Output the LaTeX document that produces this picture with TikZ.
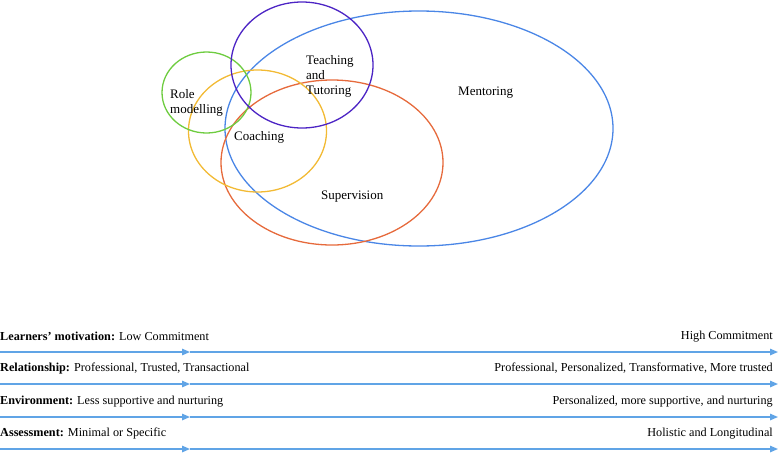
\documentclass[tikz,border=0pt]{standalone}
\usepackage{fontspec}
\setmainfont{Liberation Serif}
\usetikzlibrary{arrows.meta,shapes.geometric}
\definecolor{cgreen}{RGB}{110,204,64}
\definecolor{cpurple}{RGB}{76,36,196}
\definecolor{cyellow}{RGB}{242,186,52}
\definecolor{corange}{RGB}{230,106,60}
\definecolor{cblue}{RGB}{74,134,230}
\definecolor{carrow}{RGB}{96,164,230}
\begin{document}
\begin{tikzpicture}[x=1pt,y=-1pt,
  ring/.style={ellipse, draw, line width=1.3pt, inner sep=0pt},
  lbl/.style={font=\fontsize{13}{15}\selectfont, align=left, inner sep=0pt},
  row/.style={font=\fontsize{12.2}{14}\selectfont, inner sep=0pt},
  axis/.style={draw=carrow, line width=1.4pt, -{Triangle[length=8pt,width=6.5pt]}}]
\useasboundingbox (0,0) rectangle (778,453);
% ellipses
\node[ring, draw=cblue, minimum width=388pt, minimum height=235pt] (mentoring) at (419,128.5) {};
\node[ring, draw=corange, minimum width=222pt, minimum height=165pt] (supervision) at (332,162.5) {};
\node[ring, draw=cyellow, minimum width=138pt, minimum height=122pt] (coaching) at (257.5,131) {};
\node[ring, draw=cgreen, minimum width=89pt, minimum height=81pt] (role) at (206.5,92.5) {};
\node[ring, draw=cpurple, minimum width=142pt, minimum height=126pt] (teaching) at (302,65) {};
% labels
\node[lbl, anchor=west] (tRole) at (170,103) {Role\\modelling};
\node[lbl, anchor=west] (tTeach) at (306,76) {Teaching\\and\\Tutoring};
\node[lbl, anchor=west] (tCoach) at (234,137) {Coaching};
\node[lbl, anchor=west] (tMent) at (458,93) {Mentoring};
\node[lbl, anchor=west] (tSup) at (321,197) {Supervision};
% rows
\foreach \i/\y/\l/\r in {
  1/352/{\textbf{Learners’ motivation:} Low Commitment}/{High Commitment},
  2/384/{\textbf{Relationship:} Professional, Trusted, Transactional}/{Professional, Personalized, Transformative, More trusted},
  3/417/{\textbf{Environment:} Less supportive and nurturing}/{Personalized, more supportive, and nurturing},
  4/449/{\textbf{Assessment:} Minimal or Specific}/{Holistic and Longitudinal}}{
  \node[row, anchor=west] (L\i) at (0,\y-15.5) {\l};
  \node[row, anchor=east] (R\i) at (773,\y-15.5) {\r};
  \coordinate (s\i) at (0,\y);
  \coordinate (m\i) at (190,\y);
  \coordinate (e\i) at (778,\y);
  \draw[axis] (s\i) -- (m\i);
  \draw[axis] (m\i) -- (e\i);
}
\end{tikzpicture}
\end{document}
